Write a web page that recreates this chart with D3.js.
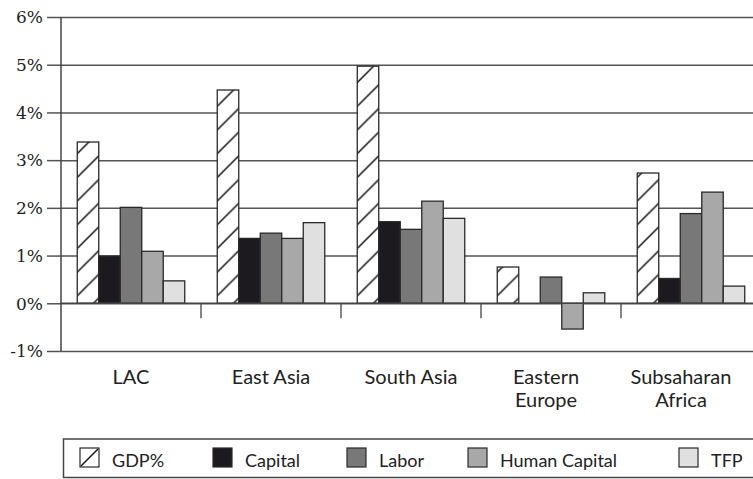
<!DOCTYPE html>
<html>
<head>
<meta charset="utf-8">
<script src="https://cdn.jsdelivr.net/npm/d3@7"></script>
<style>
  html, body { margin: 0; padding: 0; background: #fff; }
  svg { display: block; }
</style>
</head>
<body>
<svg id="chart" width="753" height="479"></svg>
<script>
// ---- data ----
const categories = [["LAC"], ["East Asia"], ["South Asia"], ["Eastern", "Europe"], ["Subsaharan", "Africa"]];
const seriesNames = ["GDP%", "Capital", "Labor", "Human Capital", "TFP"];
const gdp          = [3.38, 4.47, 4.97, 0.76, 2.73];
const capital      = [0.99, 1.36, 1.71, 0.00, 0.52];
const labor        = [2.01, 1.47, 1.55, 0.55, 1.88];
const humanCapital = [1.09, 1.36, 2.14, -0.54, 2.33];
const tfp          = [0.47, 1.69, 1.78, 0.22, 0.36];
const yTicks = [-1, 0, 1, 2, 3, 4, 5, 6];
const yTickLabels = ["-1%", "0%", "1%", "2%", "3%", "4%", "5%", "6%"];

// ---- layout / styles ----
const series = [gdp, capital, labor, humanCapital, tfp];
const fills = ["url(#hatch)", "#1c1a1f", "#787878", "#a8a8a8", "#e0e0e0"];
const legendX = [80, 213, 347, 468, 679];

const svg = d3.select("#chart");
const plotLeft = 61, plotTop = 17, plotBottom = 351, rightEdge = 753;
const catKeys = categories.map(c => c.join(" "));

const x0 = d3.scaleBand().domain(catKeys).range([plotLeft, plotLeft + 700]).paddingInner(0).paddingOuter(0);
const x1 = d3.scaleBand().domain(seriesNames).range([0, x0.bandwidth()]).paddingInner(0).paddingOuter(0.756);
const y = d3.scaleLinear().domain([-1, 6]).range([plotBottom, plotTop]);

// hatch pattern
const defs = svg.append("defs");
const hs = 23.7;
const pat = defs.append("pattern").attr("id", "hatch").attr("patternUnits", "userSpaceOnUse")
  .attr("x", 4).attr("y", 0).attr("width", hs).attr("height", hs);
pat.append("rect").attr("width", hs).attr("height", hs).attr("fill", "#fff");
pat.append("path")
  .attr("d", `M0,${hs} L${hs},0 M${-hs/2},${hs/2} L${hs/2},${-hs/2} M${hs/2},${hs*1.5} L${hs*1.5},${hs/2}`)
  .attr("stroke", "#111").attr("stroke-width", 1.5);

// gridlines + y axis ticks
const yAxis = d3.axisLeft(y).tickValues(yTicks).tickSize(plotLeft - 47)
  .tickFormat((d, i) => yTickLabels[i]);
const gy = svg.append("g").attr("transform", `translate(${plotLeft},0)`).call(yAxis);
gy.select(".domain").remove();
gy.selectAll(".tick line").attr("stroke", "#555").attr("stroke-width", 1.5);
gy.selectAll(".tick text")
  .attr("x", -(plotLeft - 43)).attr("dy", "0.34em")
  .style("font-family", "'DejaVu Serif', serif").style("font-size", "17px").attr("fill", "#222");
gy.selectAll(".tick").append("line")
  .attr("x1", 0).attr("x2", rightEdge - plotLeft)
  .attr("stroke", "#555").attr("stroke-width", 1.5);

// bars
const groups = svg.append("g").selectAll("g").data(catKeys).join("g")
  .attr("transform", d => `translate(${x0(d)},0)`);
groups.selectAll("rect")
  .data((d, ci) => seriesNames.map((s, si) => ({ s, si, v: series[si][ci] })).filter(o => o.v !== 0))
  .join("rect")
  .attr("x", o => x1(o.s))
  .attr("width", x1.bandwidth())
  .attr("y", o => y(Math.max(0, o.v)))
  .attr("height", o => Math.abs(y(o.v) - y(0)))
  .attr("fill", o => fills[o.si])
  .attr("stroke", "#2a2a2a").attr("stroke-width", 1.3);

// zero line and left axis
svg.append("line").attr("x1", plotLeft).attr("x2", rightEdge).attr("y1", y(0)).attr("y2", y(0))
  .attr("stroke", "#444").attr("stroke-width", 1.5);
svg.append("line").attr("x1", plotLeft).attr("x2", plotLeft).attr("y1", plotTop).attr("y2", plotBottom)
  .attr("stroke", "#444").attr("stroke-width", 1.5);

// category separator ticks
svg.append("g").selectAll("line").data(catKeys.slice(1)).join("line")
  .attr("x1", d => x0(d)).attr("x2", d => x0(d))
  .attr("y1", y(0)).attr("y2", y(0) + 15)
  .attr("stroke", "#444").attr("stroke-width", 1.3);

// category labels
const lab = svg.append("g").selectAll("text").data(categories).join("text")
  .attr("x", (d, i) => x0(catKeys[i]) + x0.bandwidth() / 2 - (i >= 3 ? (i - 2) * 5 : 0))
  .attr("y", 384)
  .attr("text-anchor", "middle")
  .style("font-family", "Lato, sans-serif").style("font-size", "20px").attr("fill", "#222");
lab.selectAll("tspan").data(d => d).join("tspan")
  .attr("x", function () { return this.parentNode.getAttribute("x"); })
  .attr("dy", (d, i) => i === 0 ? 0 : 22.5)
  .text(d => d);

// legend
svg.append("rect").attr("x", 63.5).attr("y", 439).attr("width", 760).attr("height", 38.5)
  .attr("fill", "none").attr("stroke", "#444").attr("stroke-width", 1.5);
const lg = svg.append("g").selectAll("g").data(seriesNames).join("g")
  .attr("transform", (d, i) => `translate(${legendX[i]},448)`);
lg.append("rect").attr("width", 19).attr("height", 19)
  .attr("fill", (d, i) => i === 0 ? "#fff" : fills[i])
  .attr("stroke", "#2a2a2a").attr("stroke-width", 1.2);
lg.filter((d, i) => i === 0).append("line")
  .attr("x1", 1).attr("y1", 18).attr("x2", 18).attr("y2", 1)
  .attr("stroke", "#111").attr("stroke-width", 1.5);
lg.append("text").attr("x", 32).attr("y", 18.5)
  .style("font-family", "Lato, sans-serif").style("font-size", "18px").attr("fill", "#222")
  .text(d => d);
</script>
</body>
</html>
